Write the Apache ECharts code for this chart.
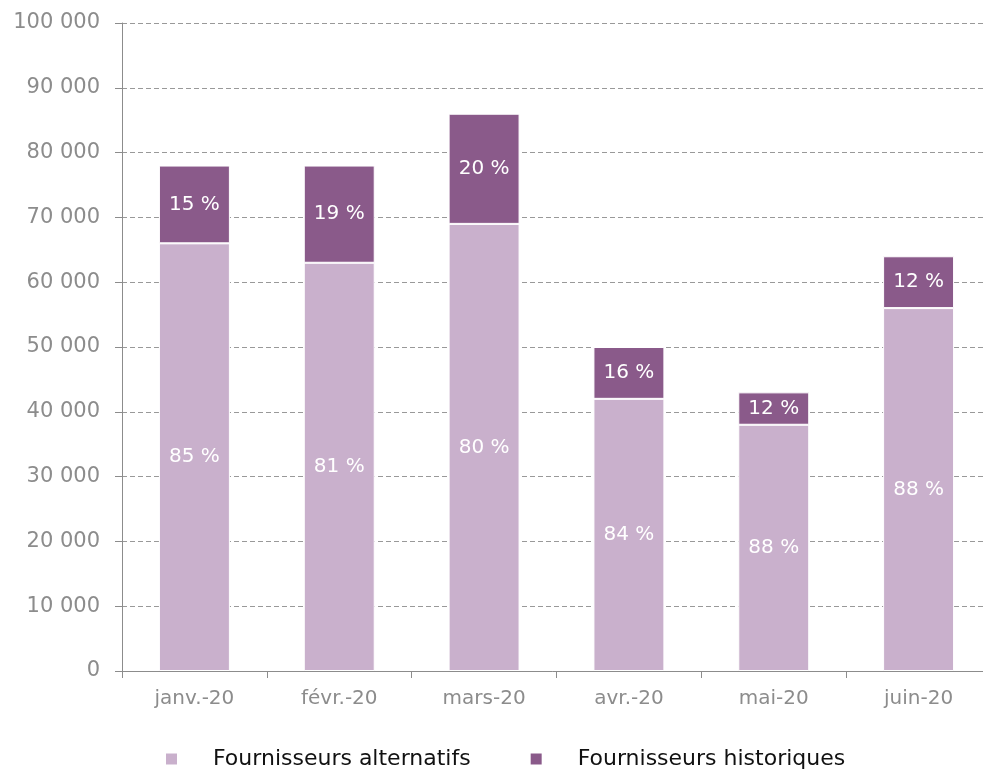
<!DOCTYPE html>
<html>
<head>
<meta charset="utf-8">
<script src="https://cdn.jsdelivr.net/npm/echarts@6/dist/echarts.min.js"></script>
<style>
  html, body { margin: 0; padding: 0; background: #fff; }
  #chart { width: 983px; height: 771px; }
</style>
</head>
<body>
<div id="chart"></div>
<script>
// données
const months = ['janv.-20', 'févr.-20', 'mars-20', 'avr.-20', 'mai-20', 'juin-20']
const alternatifs = [66000, 63000, 69000, 42000, 38000, 56000]
const historiques = [12000, 15000, 17000, 8000, 5000, 8000]
const pctAlternatifs = ['85 %', '81 %', '80 %', '84 %', '88 %', '88 %']
const pctHistoriques = ['15 %', '19 %', '20 %', '16 %', '12 %', '12 %']

const font = '"DejaVu Sans", "Liberation Sans", sans-serif'

const chart = echarts.init(document.getElementById('chart'))
const option = {
  animation: false,
  textStyle: { fontFamily: font },
  legend: {
    left: 159,
    top: 743,
    itemWidth: 13,
    itemHeight: 13,
    itemGap: 58,
    icon: 'rect',
    textStyle: { fontSize: 22, color: '#111', padding: [0, 0, 0, 30], fontFamily: font },
    data: ['Fournisseurs alternatifs', 'Fournisseurs historiques']
  },
  grid: {
    left: 122,
    top: 23,
    width: 869,
    height: 648,
    outerBoundsMode: 'none'
  },
  xAxis: {
    type: 'category',
    data: months,
    axisLine: { lineStyle: { color: '#8c8c8c', width: 1 } },
    axisTick: { show: true, length: 7, lineStyle: { color: '#8c8c8c' } },
    axisLabel: { color: '#8c8c8c', fontSize: 20, margin: 18, fontFamily: font }
  },
  yAxis: {
    type: 'value',
    min: 0,
    max: 100000,
    interval: 10000,
    axisLine: { show: true, lineStyle: { color: '#8c8c8c' } },
    axisTick: { show: true, length: 7, lineStyle: { color: '#8c8c8c' } },
    axisLabel: {
      color: '#8c8c8c',
      fontSize: 21,
      margin: 22,
      fontFamily: font,
      formatter: v => String(v).replace(/\B(?=(\d{3})+(?!\d))/g, ' ')
    },
    splitLine: { lineStyle: { color: '#999', type: [5, 3] } }
  },
  series: [
    {
      name: 'Fournisseurs alternatifs',
      type: 'bar',
      stack: 'total',
      barWidth: '49%',
      data: alternatifs,
      itemStyle: { color: '#c9b0cc', borderColor: '#fff', borderWidth: 1 },
      label: {
        show: true,
        position: 'inside',
        color: '#fff',
        fontSize: 20,
        fontFamily: font,
        formatter: p => pctAlternatifs[p.dataIndex]
      }
    },
    {
      name: 'Fournisseurs historiques',
      type: 'bar',
      stack: 'total',
      data: historiques,
      itemStyle: { color: '#8a5a8a', borderColor: '#fff', borderWidth: 1 },
      label: {
        show: true,
        position: 'inside',
        color: '#fff',
        fontSize: 20,
        fontFamily: font,
        formatter: p => pctHistoriques[p.dataIndex]
      }
    }
  ]
}
chart.setOption(option)
</script>
</body>
</html>
